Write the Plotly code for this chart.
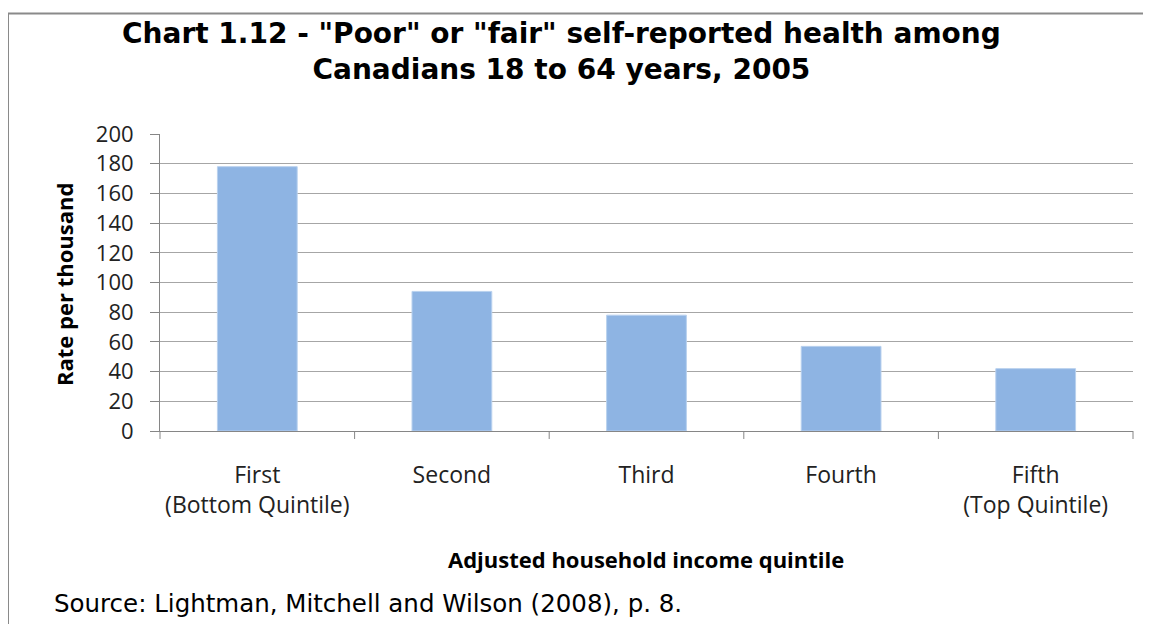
import plotly.graph_objects as go

categories = ["First<br>(Bottom Quintile)", "Second", "Third", "Fourth", "Fifth<br>(Top Quintile)"]
rates = [178, 94, 78, 57, 42]
y_ticks = [0, 20, 40, 60, 80, 100, 120, 140, 160, 180, 200]

W, H = 1151, 624
OFF = 8  # page body margin offset
L, R, T, B = 160 - OFF, 1133 - OFF, 134 - OFF, 431 - OFF

fig = go.Figure()
fig.add_trace(go.Bar(
    x=categories, y=rates,
    marker=dict(color="#8EB4E3", line=dict(color="#B9D1EE", width=1)),
    width=0.41,
))

def px(x):
    return (x - OFF - L) / (R - L)

def py(y):
    return (B - (y - OFF)) / (B - T)

TICKFONT = "'Open Sans', Lato, sans-serif"

fig.update_layout(
    width=W, height=H,
    margin=dict(l=L, r=W - R, t=T, b=H - B, pad=0),
    paper_bgcolor="white", plot_bgcolor="white",
    showlegend=False,
    font=dict(family=TICKFONT, size=21, color="#222222"),
    xaxis=dict(
        showgrid=False, showline=True, linecolor="#868686", linewidth=1,
        ticks="", tickfont=dict(size=23),
        range=[-0.5, 4.5], ticklabelstandoff=23,
    ),
    yaxis=dict(
        range=[0, 200], tickvals=y_ticks, showgrid=True, gridcolor="#A6A6A6", gridwidth=1,
        showline=True, linecolor="#868686", linewidth=1,
        ticks="outside", ticklen=9, tickcolor="#868686",
        tickfont=dict(size=22), zeroline=False, ticklabelstandoff=12,
    ),
    bargap=0.59,
)

# category boundary ticks on x axis
for i in range(6):
    xb = i / 5
    fig.add_shape(type="line", xref="paper", yref="paper", x0=xb, x1=xb,
                  y0=0, y1=-8 / (B - T), line=dict(color="#868686", width=1))

# chart border (left and top)
fig.add_shape(type="line", xref="paper", yref="paper", x0=px(8), x1=px(8),
              y0=py(13.5), y1=py(H + 20), line=dict(color="#8A8A8A", width=2))
fig.add_shape(type="line", xref="paper", yref="paper", x0=px(8), x1=px(W + 20),
              y0=py(13.5), y1=py(13.5), line=dict(color="#8A8A8A", width=2))

fig.add_annotation(
    text="<b>Chart 1.12 - \"Poor\" or \"fair\" self-reported health among<br>Canadians 18 to 64 years, 2005</b>",
    xref="paper", yref="paper", x=px(561), y=py(52), xanchor="center", yanchor="middle",
    showarrow=False, font=dict(family="'DejaVu Sans', Verdana, sans-serif", size=28, color="black"),
    align="center",
)
fig.add_annotation(
    text="<b>Rate per thousand</b>", textangle=-90,
    xref="paper", yref="paper", x=px(64), y=py(285), xanchor="center", yanchor="middle",
    showarrow=False, font=dict(size=22, color="black"),
)
fig.add_annotation(
    text="<b>Adjusted household income quintile</b>",
    xref="paper", yref="paper", x=px(646), y=py(559), xanchor="center", yanchor="middle",
    showarrow=False, font=dict(size=22, color="black"),
)
fig.add_annotation(
    text="Source: Lightman, Mitchell and Wilson (2008), p. 8.",
    xref="paper", yref="paper", x=px(52), y=py(603), xanchor="left", yanchor="middle",
    showarrow=False, font=dict(family="'DejaVu Sans', Verdana, sans-serif", size=24.5, color="black"),
)

fig.write_html("out.html")
